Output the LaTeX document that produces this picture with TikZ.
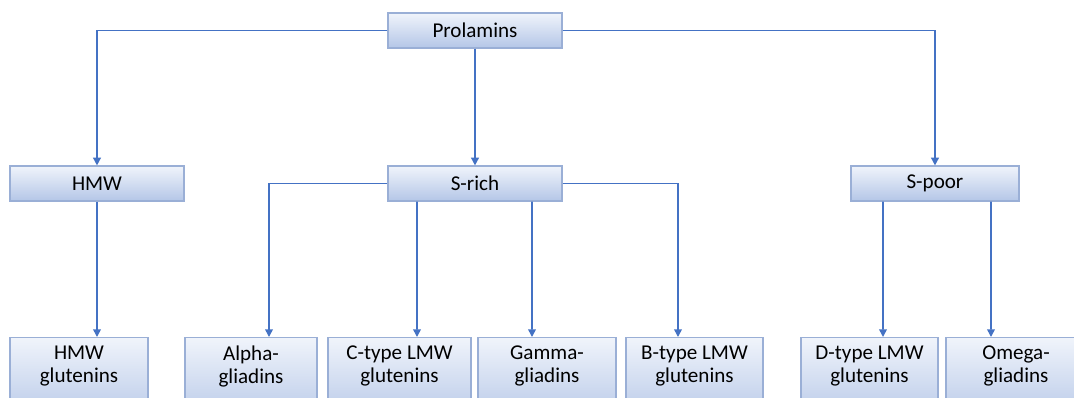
\documentclass[tikz,border=0pt]{standalone}
\usepackage{fontspec}
\setmainfont{Carlito}
\usetikzlibrary{arrows.meta}
\definecolor{linkblue}{HTML}{4472C4}
\definecolor{boxedge}{HTML}{9AAFD6}
\definecolor{boxtop}{HTML}{F0F4FB}
\definecolor{boxbot}{HTML}{B4C6E7}
\begin{document}
\begin{tikzpicture}[x=0.025cm, y=-0.025cm,
        every node/.style={font=\fontsize{15}{16.5}\selectfont},
        classbox/.style={draw=boxedge, line width=0.8pt, top color=boxtop, bottom color=boxbot,
            minimum height=0.875cm, inner sep=2pt},
        leafbox/.style={classbox, anchor=north, align=center, inner ysep=6pt, text depth=24pt},
        link/.style={draw=linkblue, line width=1.1pt, -{Triangle[length=5.5pt,width=5.5pt]}}]
    \useasboundingbox (0,0) rectangle (1074,397);
    % top and middle level
    \node[classbox, minimum width=4.35cm] (prol) at (475,30.5) {Prolamins};
    \node[classbox, minimum width=4.35cm] (hmw) at (97,183.5) {HMW};
    \node[classbox, minimum width=4.35cm] (srich) at (475,183.5) {S-rich};
    \node[classbox, minimum width=4.2cm] (spoor) at (935,183.5) {S-poor};
    % bottom level
    \node[leafbox, minimum width=3.45cm] (hmwglu) at (79,337) {HMW\\glutenins};
    \node[leafbox, minimum width=3.3cm] (alpha) at (251,337) {Alpha-\\gliadins};
    \node[leafbox, minimum width=3.575cm] (ctype) at (399.5,337) {C-type LMW\\glutenins};
    \node[leafbox, minimum width=3.45cm] (gamma) at (547,337) {Gamma-\\gliadins};
    \node[leafbox, minimum width=3.425cm] (btype) at (694.5,337) {B-type LMW\\glutenins};
    \node[leafbox, minimum width=3.425cm] (dtype) at (869.5,337) {D-type LMW\\glutenins};
    \node[leafbox, minimum width=3.5cm] (omega) at (1016,337) {Omega-\\gliadins};
    % connectors
    \draw[link] (prol.west) -| (hmw.north);
    \draw[link] (prol.east) -| (spoor.north);
    \draw[link] (prol.south) -- (srich.north);
    \draw[link] (hmw.south) -- (hmw.south |- hmwglu.north);
    \draw[link] (srich.west) -| ([xshift=0.45cm]alpha.north);
    \draw[link] ([xshift=-1.45cm]srich.south) -- ([xshift=0.4375cm]ctype.north);
    \draw[link] ([xshift=1.425cm]srich.south) -- ([xshift=-0.375cm]gamma.north);
    \draw[link] (srich.east) -| ([xshift=-0.4125cm]btype.north);
    \draw[link] ([xshift=-1.3cm]spoor.south) -- ([xshift=0.3375cm]dtype.north);
    \draw[link] ([xshift=1.4cm]spoor.south) -- ([xshift=-0.625cm]omega.north);
\end{tikzpicture}
\end{document}
